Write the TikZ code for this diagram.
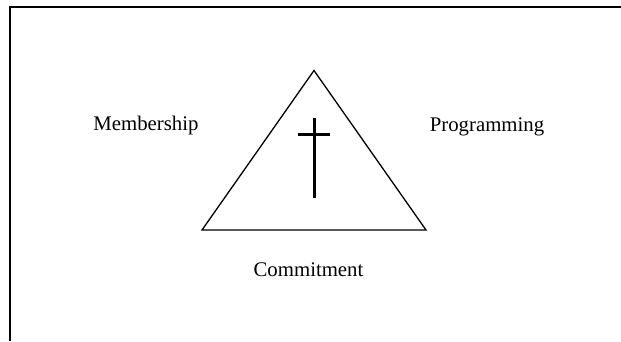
\documentclass[tikz,border=0pt]{standalone}
\usepackage{fontspec}
\setmainfont{Liberation Serif}

\begin{document}
\begin{tikzpicture}[x=1pt,y=-1pt,semithick,
    every node/.style={font=\fontsize{20.8}{25}\selectfont,inner sep=0pt}]
    \useasboundingbox (0,0) rectangle (621,341);
    % frame
    \draw[line width=2pt] (9.5,341) -- (9.5,6.5) -- (621,6.5);

    \coordinate (apex)  at (314,70.5);
    \coordinate (left)  at (202,230);
    \coordinate (right) at (426,230);
    \draw[line width=1.3pt] (apex) -- (left) -- (right) -- cycle;

    % cross
    \begin{scope}[line width=3pt]
      \draw (314,118) -- (314,198);
      \draw (298,134) -- (330,134);
    \end{scope}

    \node (member) at (146,125.5)   {Membership};
    \node (program) at (487,126.5)  {Programming};
    \node (commit) at (308.5,269.5) {Commitment};
\end{tikzpicture}
\end{document}
